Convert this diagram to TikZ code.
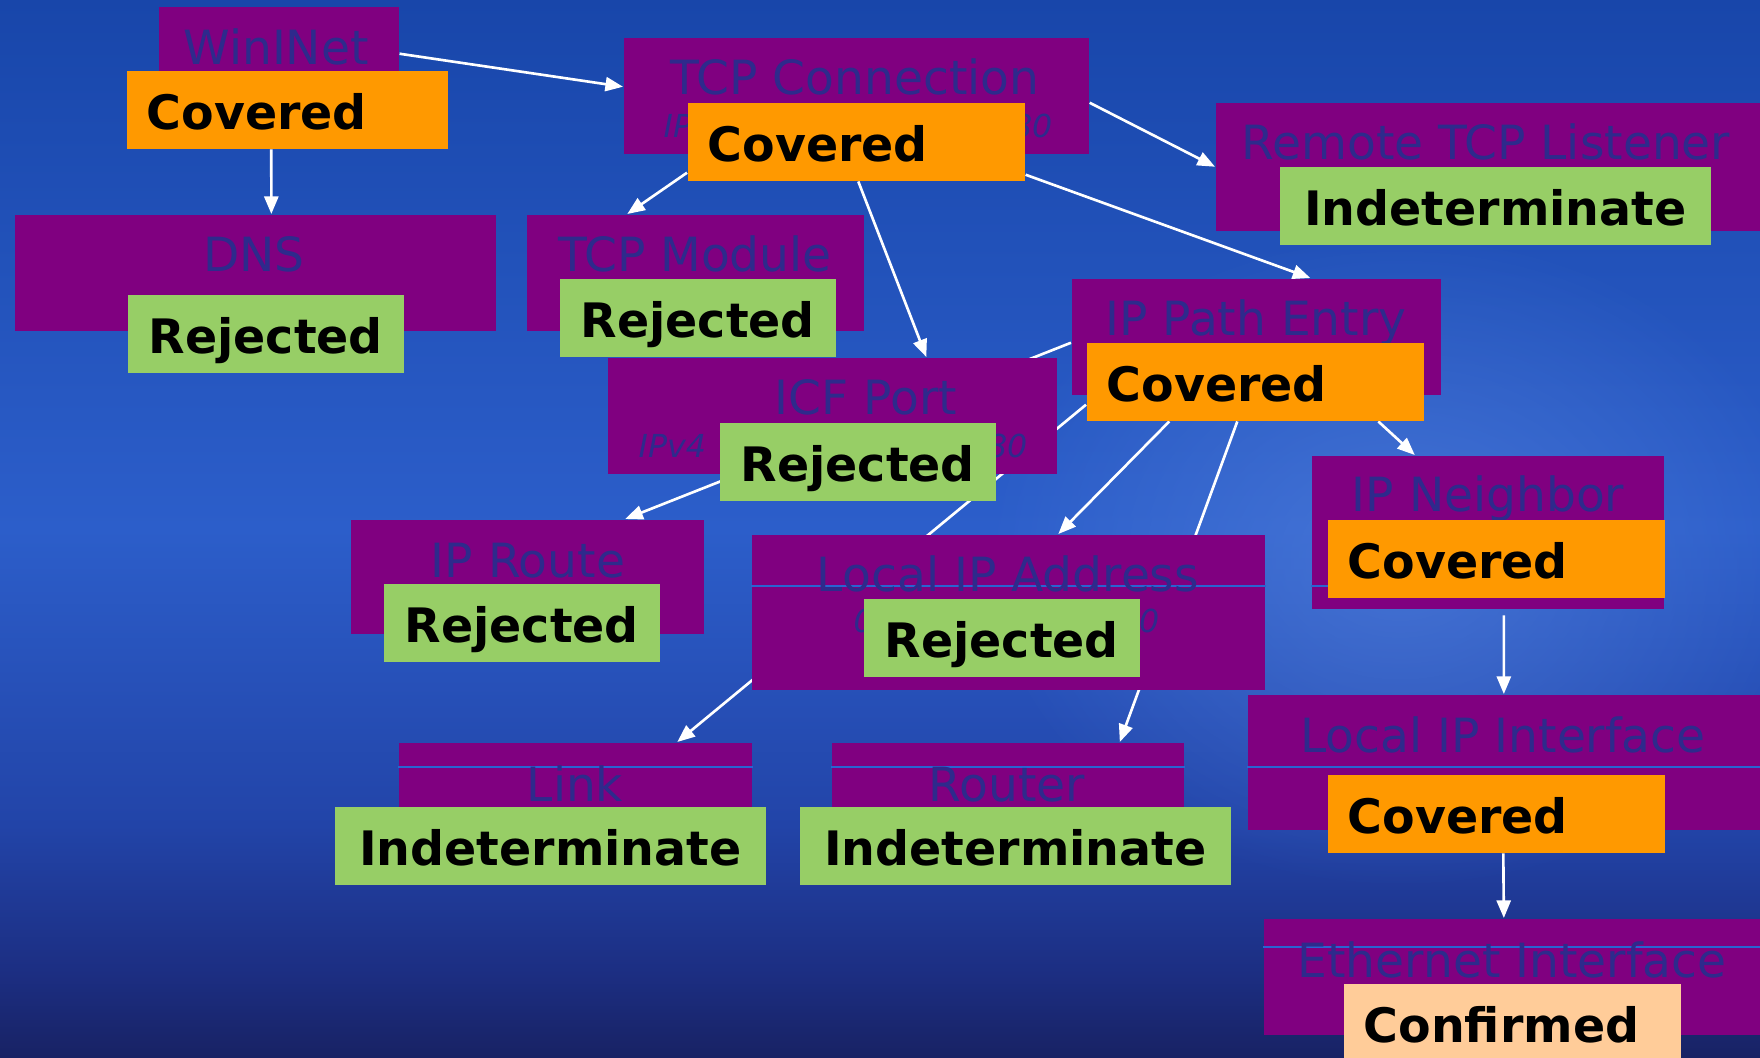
\documentclass[tikz,border=0pt]{standalone}
\usepackage{fontspec}
\setmainfont{DejaVu Sans}
\usepackage{tikz}
\usetikzlibrary{arrows.meta,calc,fadings}
\definecolor{objpurple}{RGB}{128, 0, 128}
\definecolor{objtext}{RGB}{46, 42, 140}
\definecolor{covorange}{RGB}{255, 153, 0}
\definecolor{rejgreen}{RGB}{151, 206, 102}
\definecolor{confpeach}{RGB}{255, 204, 153}
\definecolor{bgtop}{RGB}{24, 70, 170}
\definecolor{bgmid}{RGB}{44, 94, 202}
\definecolor{bglow}{RGB}{34, 68, 168}
\definecolor{bgdeep}{RGB}{28, 46, 130}
\definecolor{bgbot}{RGB}{24, 34, 100}
\definecolor{bglight}{RGB}{90, 135, 225}
\definecolor{gridblue}{RGB}{40, 100, 210}

\pgfdeclarelayer{bg}
\pgfdeclarelayer{wires}
\pgfsetlayers{bg,wires,main}

\pgfdeclareverticalshading{slidebg}{100bp}{color(0bp)=(bgbot); color(25bp)=(bgbot); color(29bp)=(bgdeep); color(36bp)=(bglow); color(50bp)=(bgmid); color(75bp)=(bgtop); color(100bp)=(bgtop)}
\tikzfading[name=softspot, inner color=transparent!0, outer color=transparent!100]

\tikzset{
  objbox/.style={fill=objpurple, anchor=north west, inner sep=0},
  objname/.style={anchor=base, inner sep=0, text=objtext, font=\fontsize{13.4}{15}\selectfont},
  objsub/.style={inner sep=0, text=objtext, font=\itshape\fontsize{9}{10}\selectfont},
  statbox/.style={anchor=north west, minimum height=0.78cm, text height=11pt, text depth=0pt, inner ysep=0, font=\bfseries\fontsize{13.5}{15}\selectfont},
  covbox/.style={statbox, fill=covorange, text width=2.97cm, inner xsep=0.2cm, align=left},
  confbox/.style={covbox, fill=confpeach},
  rejbox/.style={statbox, fill=rejgreen, minimum width=2.76cm, align=center},
  indbox/.style={statbox, fill=rejgreen, minimum width=4.31cm, align=center},
  wire/.style={white, line width=0.75pt, -{Triangle[length=5pt,width=4pt]}},
  gridline/.style={color=gridblue, line width=0.4pt}
}

\begin{document}
\begin{tikzpicture}[x=0.01cm, y=-0.01cm]
  \useasboundingbox (0,0) rectangle (1760,1058);

  % fondo
  \begin{pgfonlayer}{bg}
    \shade[shading=slidebg] (0,0) rectangle (1760,1058);
    \fill[bglight, opacity=0.55, path fading=softspot] (1400,560) ellipse (420 and 330);
  \end{pgfonlayer}

  % cajas de los objetos
  \node[objbox, minimum width=2.40cm, minimum height=1.06cm] (wininet) at (158,6) {};
  \node[objbox, minimum width=4.65cm, minimum height=1.16cm] (tcpconn) at (623,37) {};
  \node[objbox, minimum width=5.60cm, minimum height=1.28cm] (remote) at (1215,102) {};
  \node[objbox, minimum width=4.81cm, minimum height=1.16cm] (dns) at (14,214) {};
  \node[objbox, minimum width=3.37cm, minimum height=1.16cm] (tcpmod) at (526,214) {};
  \node[objbox, minimum width=3.69cm, minimum height=1.16cm] (pathentry) at (1071,278) {};
  \node[objbox, minimum width=4.49cm, minimum height=1.16cm] (icfport) at (607,357) {};
  \node[objbox, minimum width=3.53cm, minimum height=1.14cm] (iproute) at (350,519) {};
  \node[objbox, minimum width=5.13cm, minimum height=1.55cm] (localaddr) at (751,534) {};
  \node[objbox, minimum width=3.52cm, minimum height=1.53cm] (neighbor) at (1311,455) {};
  \node[objbox, minimum width=3.53cm, minimum height=0.90cm] (link) at (398,742) {};
  \node[objbox, minimum width=3.52cm, minimum height=0.90cm] (router) at (831,742) {};
  \node[objbox, minimum width=5.20cm, minimum height=1.35cm] (localif) at (1247,694) {};
  \node[objbox, minimum width=5.10cm, minimum height=1.16cm] (ethernet) at (1263,918) {};

  % lineas finas
  \draw[gridline] (localaddr.west |- 0,586) -- (localaddr.east |- 0,586);
  \draw[gridline] (neighbor.west |- 0,586) -- (neighbor.east |- 0,586);
  \draw[gridline] (link.west |- 0,767) -- (link.east |- 0,767);
  \draw[gridline] (router.west |- 0,767) -- (router.east |- 0,767);
  \draw[gridline] (localif.west |- 0,767) -- (1760,767);
  \draw[gridline] (ethernet.west |- 0,947) -- (1760,947);

  % nombres
  \node[objname] (wininetname) at (276,65) {WinINet};
  \node[objname] (tcpconnname) at (855,95) {TCP Connection};
  \node[objname] (remotename) at (1486,160) {Remote TCP Listener};
  \node[objname] (dnsname) at (254,272) {DNS};
  \node[objname] (tcpmodname) at (695,272) {TCP Module};
  \node[objname] (pathentryname) at (1256,336) {IP Path Entry};
  \node[objname] (icfportname) at (866,415) {ICF Port};
  \node[objname] (iproutename) at (528,578) {IP Route};
  \node[objname] (localaddrname) at (1008,592) {Local IP Address};
  \node[objname] (neighborname) at (1488,512) {IP Neighbor};
  \node[objname] (linkname) at (575,801) {Link};
  \node[objname] (routername) at (1007,801) {Router};
  \node[objname] (localifname) at (1503,752) {Local IP Interface};
  \node[objname] (ethernetname) at (1512,977) {Ethernet Interface};

  % segunda linea (casi tapada)
  \node[objsub, anchor=base west] (tcpconnsubl) at (663,138) {IPv4};
  \node[objsub, anchor=base east] (tcpconnsubr) at (1053,138) {80};
  \node[objsub, anchor=base west] (icfportsubl) at (638,458) {IPv4};
  \node[objsub, anchor=base east] (icfportsubr) at (1028,458) {80};
  \node[objsub, anchor=base west] (localaddrsubl) at (853,633) {0};
  \node[objsub, anchor=base east] (localaddrsubr) at (1160,633) {0};

  % estados
  \node[covbox, text width=2.81cm] (wincov) at (126,70) {Covered};
  \node[covbox] (tcpcov) at (687,102) {Covered};
  \node[indbox] (remoteind) at (1279,166) {Indeterminate};
  \node[rejbox] (dnsrej) at (127,294) {Rejected};
  \node[rejbox] (tcpmodrej) at (559,278) {Rejected};
  \node[covbox] (pathcov) at (1086,342) {Covered};
  \node[rejbox] (icfrej) at (719,422) {Rejected};
  \node[rejbox] (iprouterej) at (383,583) {Rejected};
  \node[rejbox] (localaddrrej) at (863,598) {Rejected};
  \node[covbox] (neighborcov) at (1327,519) {Covered};
  \node[indbox] (linkind) at (334,806) {Indeterminate};
  \node[indbox] (routerind) at (799,806) {Indeterminate};
  \node[covbox] (localifcov) at (1327,774) {Covered};
  \node[confbox] (ethernetconf) at (1343,983) {Confirmed};

  % flechas
  \begin{pgfonlayer}{wires}
    \draw[wire] ($(wininet.east)+(0,-6)$) -- ($(tcpconn.west)+(0,-9)$);
    \draw[wire] ($(wincov.south)+(-16,0)$) -- ($(dns.north)+(16,0)$);
    \draw[wire] ($(tcpcov.west)+(0,31)$) -- ($(tcpmod.north)+(-68,0)$);
    \draw[wire] ($(tcpcov.south)+(2,0)$) -- ($(icfport.north)+(94,0)$);
    \draw[wire] ($(tcpconn.east)+(0,7)$) -- (remote.west);
    \draw[wire] ($(tcpcov.east)+(0,33)$) -- ($(pathentry.north)+(54,0)$);
    \draw[wire] ($(pathentry.west)+(0,6)$) -- ($(iproute.north)+(98,0)$);
    \draw[wire] ($(pathcov.south)+(-86,0)$) -- ($(localaddr.north)+(50,0)$);
    \draw[wire] ($(pathcov.south)+(-18,0)$) -- ($(router.north)+(112,0)$);
    \draw[wire] ($(pathcov.west)+(0,23)$) -- ($(link.north)+(102,0)$);
    \draw[wire] ($(pathcov.south)+(123,0)$) -- ($(neighbor.north)+(-73,0)$);
    \draw[wire] ($(neighbor.south)+(16,6)$) -- ($(localif.north)+(-4,0)$);
    \draw[wire] ($(localifcov.south)+(7,0)$) -- ($(ethernet.north)+(-15,0)$);
  \end{pgfonlayer}
\end{tikzpicture}
\end{document}
